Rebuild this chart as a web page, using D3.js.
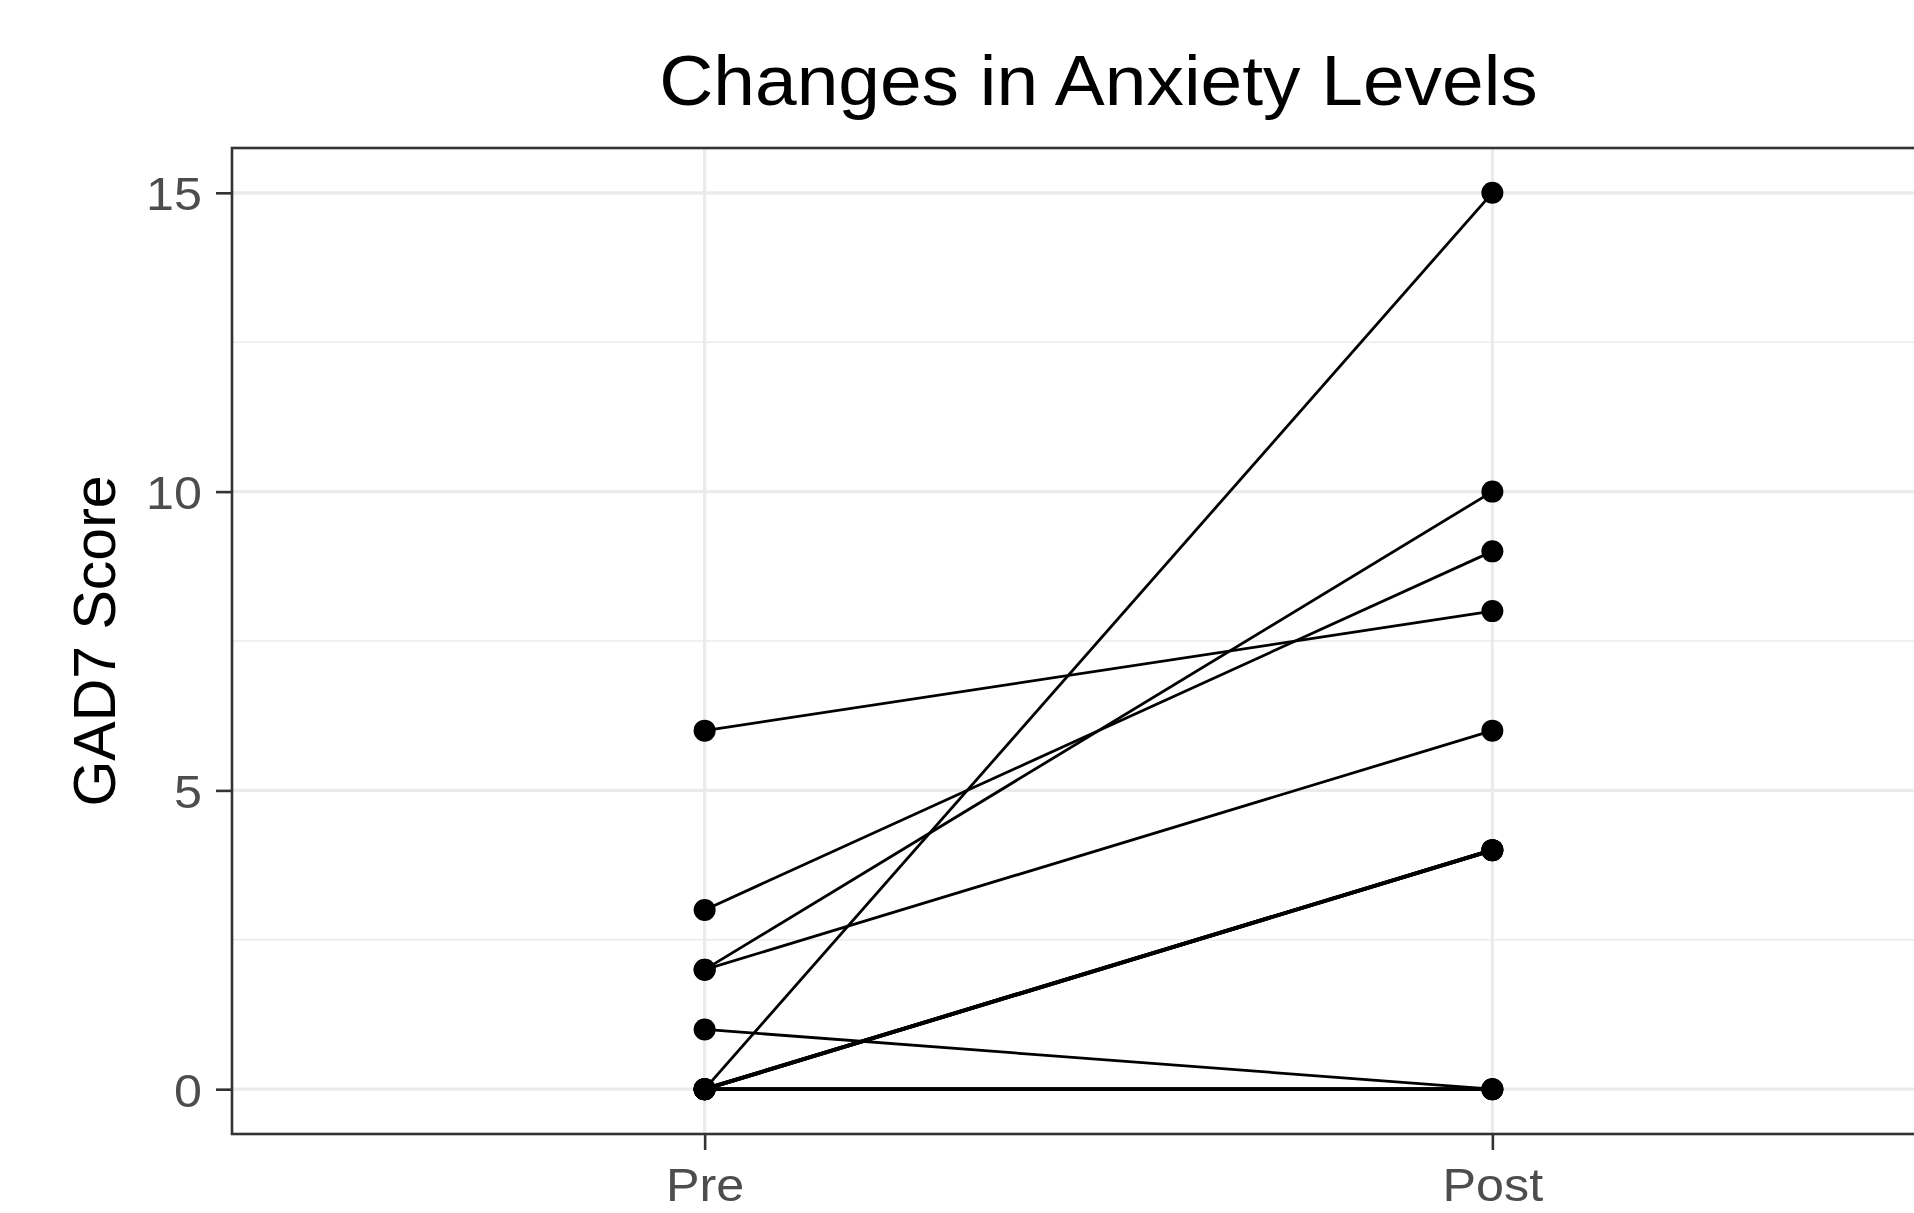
<!DOCTYPE html>
<html>
<head>
<meta charset="utf-8">
<script src="https://cdn.jsdelivr.net/npm/d3@7"></script>
<style>
  html, body { margin: 0; padding: 0; background: #ffffff; }
  svg { display: block; }
  text { font-family: "Liberation Sans", Arial, Helvetica, sans-serif; }
</style>
</head>
<body>
<svg id="chart" width="1914" height="1213"></svg>
<script>
// ---- data ----
const timepoints = ["Pre", "Post"];
const preScores  = [6, 3, 2, 2, 1, 0, 0, 0, 0, 0, 0];
const postScores = [8, 9, 10, 6, 0, 15, 4, 4, 4, 0, 0];
const yTicks = [0, 5, 10, 15];
const yMinorTicks = [2.5, 7.5, 12.5];
const titleText = "Changes in Anxiety Levels";
const yLabel = "GAD7 Score";

// ---- layout ----
const W = 1914, H = 1213;
const panel = { left: 232, top: 148, right: 1965, bottom: 1134 };
const sx = 1.07; // horizontal text stretch of the reference

const svg = d3.select("#chart");

const x = d3.scaleLinear()
  .domain([0.4, 2.6])
  .range([panel.left, panel.right]);
const xPos = name => x(timepoints.indexOf(name) + 1);

const y = d3.scaleLinear()
  .domain([-0.75, 15.75])
  .range([panel.bottom, panel.top]);

// panel background
svg.append("rect")
  .attr("x", panel.left).attr("y", panel.top)
  .attr("width", panel.right - panel.left)
  .attr("height", panel.bottom - panel.top)
  .attr("fill", "#ffffff");

const grid = svg.append("g");
// minor grid
grid.selectAll("line.minor").data(yMinorTicks).join("line")
  .attr("x1", panel.left).attr("x2", panel.right)
  .attr("y1", d => y(d)).attr("y2", d => y(d))
  .attr("stroke", "#ebebeb").attr("stroke-width", 1.6);
// major grid
grid.selectAll("line.major").data(yTicks).join("line")
  .attr("x1", panel.left).attr("x2", panel.right)
  .attr("y1", d => y(d)).attr("y2", d => y(d))
  .attr("stroke", "#ebebeb").attr("stroke-width", 3.2);
grid.selectAll("line.vmajor").data(timepoints).join("line")
  .attr("x1", d => xPos(d)).attr("x2", d => xPos(d))
  .attr("y1", panel.top).attr("y2", panel.bottom)
  .attr("stroke", "#ebebeb").attr("stroke-width", 3.2);

// data
const pairs = preScores.map((p, i) => ({ pre: p, post: postScores[i] }));
// overlapping segments render heavier in the reference
const overlap = d3.rollup(pairs, v => v.length, d => d.pre + "-" + d.post);

svg.append("g").selectAll("line").data(pairs).join("line")
  .attr("x1", xPos("Pre")).attr("y1", d => y(d.pre))
  .attr("x2", xPos("Post")).attr("y2", d => y(d.post))
  .attr("stroke", "#000000")
  .attr("stroke-width", d => overlap.get(d.pre + "-" + d.post) > 1 ? 3.8 : 2.8);

const pts = [];
pairs.forEach(d => {
  pts.push({ t: "Pre", v: d.pre });
  pts.push({ t: "Post", v: d.post });
});
svg.append("g").selectAll("circle").data(pts).join("circle")
  .attr("cx", d => xPos(d.t)).attr("cy", d => y(d.v))
  .attr("r", 11).attr("fill", "#000000");

// panel border
svg.append("rect")
  .attr("x", panel.left).attr("y", panel.top)
  .attr("width", panel.right - panel.left)
  .attr("height", panel.bottom - panel.top)
  .attr("fill", "none").attr("stroke", "#333333").attr("stroke-width", 2.6);

// y axis
const yAxis = d3.axisLeft(y).tickValues(yTicks).tickSize(16).tickPadding(14).tickFormat(d3.format("d"));
const gy = svg.append("g").attr("transform", `translate(${panel.left},0)`).call(yAxis);
gy.select(".domain").remove();
gy.selectAll(".tick line").attr("stroke", "#333333").attr("stroke-width", 2.6);
gy.selectAll(".tick text")
  .attr("fill", "#4d4d4d").attr("font-size", 47)
  .attr("font-family", "'Liberation Sans', Arial, sans-serif")
  .attr("dy", "0.36em")
  .attr("transform", function() {
    const xx = +d3.select(this).attr("x");
    return `translate(${xx},0) scale(${sx},1) translate(${-xx},0)`;
  });

// x axis
const xAxisScale = d3.scalePoint().domain(timepoints)
  .range([xPos("Pre"), xPos("Post")]);
const xAxis = d3.axisBottom(xAxisScale).tickSize(16).tickPadding(18);
const gx = svg.append("g").attr("transform", `translate(0,${panel.bottom})`).call(xAxis);
gx.select(".domain").remove();
gx.selectAll(".tick line").attr("stroke", "#333333").attr("stroke-width", 2.6);
gx.selectAll(".tick text")
  .attr("fill", "#4d4d4d").attr("font-size", 47)
  .attr("font-family", "'Liberation Sans', Arial, sans-serif")
  .attr("transform", `scale(${sx},1)`);

// title
svg.append("text")
  .attr("transform", `translate(${(panel.left + panel.right) / 2},105) scale(${sx},1)`)
  .attr("text-anchor", "middle")
  .attr("font-size", 70)
  .attr("fill", "#000000")
  .text(titleText);

// y axis title
svg.append("text")
  .attr("transform", `translate(115,${(panel.top + panel.bottom) / 2}) rotate(-90)`)
  .attr("text-anchor", "middle")
  .attr("font-size", 59)
  .attr("fill", "#000000")
  .text(yLabel);
</script>
</body>
</html>
